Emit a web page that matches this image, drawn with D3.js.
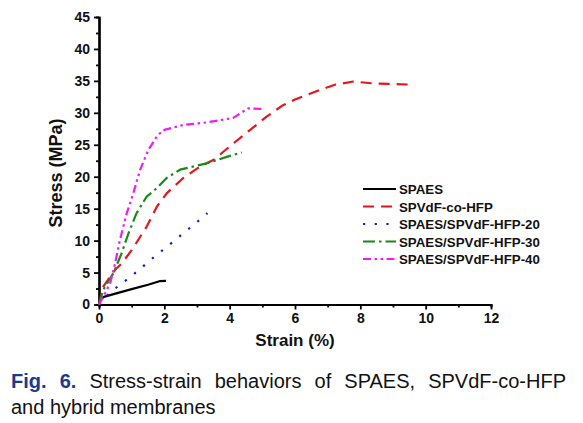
<!DOCTYPE html>
<html>
<head>
<meta charset="utf-8">
<script src="https://cdn.jsdelivr.net/npm/d3@7"></script>
<style>
  html, body { margin: 0; padding: 0; background: #fff; }
  svg { display: block; }
</style>
</head>
<body>
<svg id="chart" width="583" height="423"></svg>
<script>
// ---- data ----
const seriesNames = ["SPAES", "SPVdF-co-HFP", "SPAES/SPVdF-HFP-20", "SPAES/SPVdF-HFP-30", "SPAES/SPVdF-HFP-40"];
const spaes = [[0,0],[0.05,0.8],[0.15,1.2],[0.5,1.7],[1.0,2.4],[1.5,3.1],[1.85,3.65],[2.05,3.7]];
const spvdf = [[0,0],[0.13,2.8],[0.49,5.4],[0.69,6.4],[1.0,8.5],[1.46,12.2],[1.77,15.3],[2.07,17.4],[2.58,19.8],[3.09,21.6],[3.5,22.6],[4.11,25.2],[4.62,27.3],[5.13,29.4],[5.6,31.1],[6.0,32.1],[6.77,33.6],[7.22,34.4],[7.78,34.9],[8.4,34.6],[9.11,34.5],[9.65,34.4]];
const hybrid20 = [[0,0],[0.29,1.64],[0.59,2.9],[0.95,4.26],[1.29,5.7],[1.63,7.2],[1.97,8.6],[2.31,10.0],[2.65,11.45],[3.0,12.9],[3.32,14.3]];
const hybrid30 = [[0,0],[0.13,2.3],[0.44,4.9],[0.69,8.0],[0.9,11.1],[1.15,14.3],[1.46,16.9],[1.77,18.2],[2.07,19.8],[2.48,21.1],[2.89,21.6],[3.3,22.1],[3.91,23.1],[4.37,23.8]];
const hybrid40 = [[0,0],[0.13,1.2],[0.34,3.3],[0.49,6.4],[0.64,10.1],[0.85,14.3],[1.05,17.4],[1.26,21.1],[1.51,24.2],[1.77,26.3],[1.97,27.3],[2.58,28.1],[3.3,28.5],[4.11,29.2],[4.32,29.9],[4.57,30.7],[5.03,30.6]];
const seriesData = [spaes, spvdf, hybrid20, hybrid30, hybrid40];
const xTicks = [0, 2, 4, 6, 8, 10, 12];
const yTicks = [0, 5, 10, 15, 20, 25, 30, 35, 40, 45];
const xMinor = [1, 3, 5, 7, 9, 11];
const yMinor = [2.5, 7.5, 12.5, 17.5, 22.5, 27.5, 32.5, 37.5, 42.5];
const xLabel = "Strain (%)";
const yLabel = "Stress (MPa)";
const captionLine1 = "Stress-strain behaviors of SPAES, SPVdF-co-HFP";
const captionLine2 = "and hybrid membranes";

// ---- styles ----
const colors = ["#000000", "#e8141c", "#1418b8", "#178a17", "#f01cf0"];
const dashes = [null, "11,7", "2.2,9.5", "12,4,2.5,4", "8,3.5,2.5,3.5,2.5,3.5"];

const svg = d3.select("#chart");
const FONT = "Arial, 'Liberation Sans', Helvetica, sans-serif";

const x = d3.scaleLinear().domain([0, 12]).range([99, 491]);
const y = d3.scaleLinear().domain([0, 45]).range([304.5, 17]);

svg.append("g").attr("transform", `translate(0,${y(0)})`)
  .call(d3.axisBottom(x).tickValues(xMinor).tickSize(3).tickFormat(""));
svg.append("g").attr("transform", `translate(0,${y(0)})`)
  .call(d3.axisBottom(x).tickValues(xTicks).tickSize(5).tickSizeOuter(0).tickPadding(4));

svg.append("g").attr("transform", `translate(${x(0)},0)`)
  .call(d3.axisLeft(y).tickValues(yMinor).tickSize(3).tickFormat(""));
svg.append("g").attr("transform", `translate(${x(0)},0)`)
  .call(d3.axisLeft(y).tickValues(yTicks).tickSize(5).tickSizeOuter(0).tickPadding(4));

svg.selectAll(".domain").attr("stroke", "#000").attr("stroke-width", 2.2);
svg.selectAll(".tick line").attr("stroke", "#000").attr("stroke-width", 1.8);
svg.selectAll(".tick text").attr("font-family", FONT).attr("font-weight", "bold")
  .attr("font-size", 14).attr("fill", "#111");

// axis labels
svg.append("text").attr("x", x(6)).attr("y", 346).attr("text-anchor", "middle")
  .attr("font-family", FONT).attr("font-weight", "bold").attr("font-size", 17).attr("fill", "#111")
  .text(xLabel);
svg.append("text").attr("transform", `translate(62,${173}) rotate(-90)`).attr("text-anchor", "middle")
  .attr("font-family", FONT).attr("font-weight", "bold").attr("font-size", 18).attr("fill", "#111")
  .text(yLabel);

// curves
const line = d3.line().x(d => x(d[0])).y(d => y(d[1]));
seriesData.forEach((data, i) => {
  const p = svg.append("path").datum(data).attr("d", line)
    .attr("fill", "none").attr("stroke", colors[i]).attr("stroke-width", 2.2)
    .attr("stroke-linejoin", "round");
  if (dashes[i]) p.attr("stroke-dasharray", dashes[i]);
});

// legend
const legRowY = d3.scalePoint().domain(seriesNames).range([189, 259]);
seriesNames.forEach((name, i) => {
  const cy = legRowY(name);
  const l = svg.append("line").attr("x1", 363).attr("x2", 396).attr("y1", cy).attr("y2", cy)
    .attr("stroke", colors[i]).attr("stroke-width", 2.2);
  if (dashes[i]) l.attr("stroke-dasharray", dashes[i]);
  svg.append("text").attr("x", 399).attr("y", cy + 5)
    .attr("font-family", FONT).attr("font-weight", "bold").attr("font-size", 13.3).attr("fill", "#111")
    .text(name);
});

// caption (line 1 justified)
const capSize = 20;
const capLeft = 11, capRight = 566;
const words1 = [{t: "Fig.", b: true}, {t: "6.", b: true}].concat(captionLine1.split(" ").map(t => ({t, b: false})));
const nodes = words1.map(w => svg.append("text").attr("y", 388)
  .attr("font-family", FONT).attr("font-size", capSize)
  .attr("font-weight", w.b ? "bold" : "normal")
  .attr("fill", w.b ? "#1c3a8c" : "#111").text(w.t));
const widths = nodes.map(n => n.node().getComputedTextLength());
const total = d3.sum(widths);
const gap = (capRight - capLeft - total) / (nodes.length - 1);
let cx = capLeft;
nodes.forEach((n, i) => { n.attr("x", cx); cx += widths[i] + gap; });
svg.append("text").attr("x", capLeft).attr("y", 414)
  .attr("font-family", FONT).attr("font-size", capSize).attr("fill", "#111")
  .text(captionLine2);
</script>
</body>
</html>
